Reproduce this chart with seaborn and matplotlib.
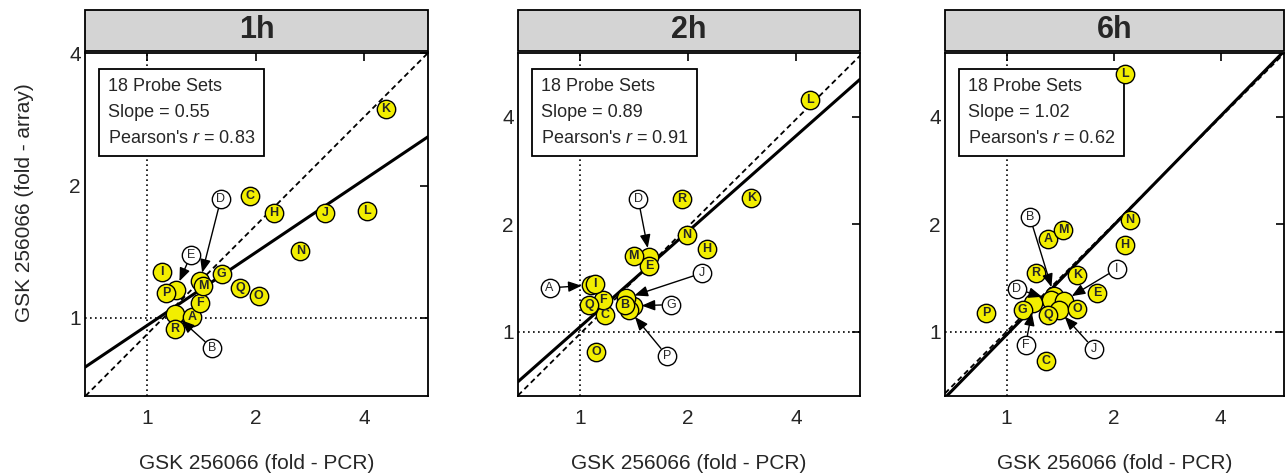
import numpy as np
import pandas as pd
import matplotlib
matplotlib.use("Agg")
import matplotlib.pyplot as plt
from matplotlib.patches import Rectangle
import seaborn as sns

# ---------------- data ----------------
LETTERS = list("ABCDEFGHIJKLMNOPQR")
TIMEPOINTS = ["1h", "2h", "6h"]

# fold change by PCR (x) and by array (y) for each probe set A..R
PCR_1H = [1.33, 1.19, 1.925, 1.40, 1.20, 1.40, 1.61, 2.25, 1.10, 3.12, 4.60, 4.07, 1.43, 2.66, 2.04, 1.13, 1.81, 1.19]
ARRAY_1H = [1.005, 1.02, 1.894, 1.21, 1.16, 1.08, 1.26, 1.73, 1.27, 1.73, 2.99, 1.75, 1.18, 1.42, 1.12, 1.14, 1.17, 0.946]

PCR_2H = [1.07, 1.33, 1.17, 1.56, 1.56, 1.16, 1.40, 2.25, 1.10, 1.34, 3.00, 4.37, 1.41, 1.98, 1.11, 1.37, 1.06, 1.92]
ARRAY_2H = [1.35, 1.19, 1.11, 1.62, 1.53, 1.23, 1.18, 1.71, 1.36, 1.24, 2.37, 4.46, 1.63, 1.87, 0.878, 1.15, 1.19, 2.36]

PCR_6H = [1.31, 1.36, 1.29, 1.33, 1.80, 1.19, 1.11, 2.15, 1.45, 1.40, 1.58, 2.15, 1.44, 2.22, 1.58, 0.876, 1.31, 1.21]
ARRAY_6H = [1.82, 1.26, 0.828, 1.23, 1.28, 1.20, 1.15, 1.75, 1.22, 1.15, 1.44, 5.28, 1.93, 2.06, 1.16, 1.13, 1.11, 1.46]

# call-out labels (letter, label position in fold units)
CALLOUT_1H = ["B", "D", "E"]
CALLOUT_1H_X = [1.514, 1.60, 1.321]
CALLOUT_1H_Y = [0.854, 1.861, 1.390]

CALLOUT_2H = ["A", "D", "G", "J", "P"]
CALLOUT_2H_X = [0.822, 1.452, 1.79, 2.19, 1.745]
CALLOUT_2H_Y = [1.326, 2.348, 1.19, 1.46, 0.856]

CALLOUT_6H = ["B", "D", "F", "I", "J"]
CALLOUT_6H_X = [1.163, 1.068, 1.131, 2.04, 1.759]
CALLOUT_6H_Y = [2.094, 1.318, 0.918, 1.499, 0.896]

N_PROBES = 18
SLOPES = [0.55, 0.89, 1.02]
INTERCEPTS_LOG2 = [-0.056, 0.045, -0.03]
PEARSON_R = [0.83, 0.91, 0.62]

# dashed reference diagonal (log2 slope / intercept) as drawn in each panel
DIAG_SLOPES = [0.82, 1.0, 1.0]
DIAG_INTERCEPTS_LOG2 = [-0.122, -0.02, 0.0]

X_TICKS = [1, 2, 4]
Y_TICKS = [1, 2, 4]
X_LABEL = "GSK 256066 (fold - PCR)"
Y_LABEL = "GSK 256066 (fold - array)"

# ---------------- style ----------------
sns.set_style("white")
plt.rcParams["font.family"] = ["Liberation Sans", "DejaVu Sans"]
plt.rcParams["mathtext.fontset"] = "custom"
plt.rcParams["mathtext.rm"] = "Liberation Sans"
plt.rcParams["mathtext.it"] = "Liberation Sans:italic"

W, H = 1286, 476
fig = plt.figure(figsize=(W / 100, H / 100), dpi=100)

panels = [
    (PCR_1H, ARRAY_1H, CALLOUT_1H, CALLOUT_1H_X, CALLOUT_1H_Y),
    (PCR_2H, ARRAY_2H, CALLOUT_2H, CALLOUT_2H_X, CALLOUT_2H_Y),
    (PCR_6H, ARRAY_6H, CALLOUT_6H, CALLOUT_6H_X, CALLOUT_6H_Y),
]
lefts = [85, 518, 945]
rights = [428, 860, 1284]
top_px, bot_px = 52.5, 396
xlim = (2 ** -0.575, 2 ** 2.59)
ylims = [(2 ** -0.59, 2 ** 2.005), (2 ** -0.6, 2 ** 2.6), (2 ** -0.6, 2 ** 2.6)]

YELLOW = "#f2ee00"
MS = 175

for i, (xs, ys, co, cox, coy) in enumerate(panels):
    l, r = lefts[i], rights[i]
    ax = fig.add_axes([l / W, 1 - bot_px / H, (r - l) / W, (bot_px - top_px) / H])
    ax.set_xscale("log", base=2)
    ax.set_yscale("log", base=2)
    ax.set_xlim(*xlim)
    ax.set_ylim(*ylims[i])

    # reference lines
    ax.axvline(1, color="black", lw=1.2, ls=(0, (1, 2)), zorder=1)
    ax.axhline(1, color="black", lw=1.2, ls=(0, (1, 2)), zorder=1)
    da, db = DIAG_SLOPES[i], DIAG_INTERCEPTS_LOG2[i]
    ax.axline((1, 2 ** db), (2, 2 ** (da + db)), color="black", lw=1.3,
              ls=(0, (3, 2)), zorder=1.5)
    a, b = SLOPES[i], INTERCEPTS_LOG2[i]
    ax.axline((1, 2 ** b), (2, 2 ** (a + b)), color="black", lw=2.2, zorder=2)

    # stats box (below points, above lines)
    txt = (f"{N_PROBES} Probe Sets\nSlope = {SLOPES[i]:.2f}\n"
           f"Pearson's $r$ = {PEARSON_R[i]:.2f}")
    ax.text(0.067, 0.926, txt, transform=ax.transAxes, ha="left", va="top",
            fontsize=13, linespacing=1.68, zorder=2.5,
            bbox=dict(boxstyle="square,pad=0.5", fc="white", ec="black", lw=1.3))

    df = pd.DataFrame({"probe": LETTERS, "pcr": xs, "array": ys})
    df["hidden"] = df["probe"].isin(co)
    # points whose label is called out sit underneath the labelled points
    sns.scatterplot(data=df[df["hidden"]], x="pcr", y="array", s=MS, color=YELLOW,
                    edgecolor="black", linewidth=1.0, zorder=3, ax=ax, legend=False)
    shown = df[~df["hidden"]]
    sns.scatterplot(data=shown, x="pcr", y="array", s=MS, color=YELLOW,
                    edgecolor="black", linewidth=1.0, zorder=3.2, ax=ax, legend=False)
    for _, row in shown.iterrows():
        ax.text(row["pcr"], row["array"], row["probe"], ha="center", va="center",
                fontsize=9, fontweight="bold", zorder=4)

    # call-outs
    cdf = pd.DataFrame({"probe": co, "lx": cox, "ly": coy})
    for _, row in cdf.iterrows():
        k = LETTERS.index(row["probe"])
        ax.annotate("", xy=(xs[k], ys[k]), xytext=(row["lx"], row["ly"]),
                    arrowprops=dict(arrowstyle="-|>,head_length=0.8,head_width=0.32",
                                    mutation_scale=10, color="black", lw=1.0,
                                    shrinkA=6.8, shrinkB=6.5),
                    zorder=5)
    sns.scatterplot(data=cdf, x="lx", y="ly", s=MS, color="white",
                    edgecolor="black", linewidth=1.0, zorder=6, ax=ax, legend=False)
    for _, row in cdf.iterrows():
        ax.text(row["lx"], row["ly"], row["probe"], ha="center", va="center",
                fontsize=9, zorder=7)

    # ticks
    ax.set_xticks(X_TICKS)
    ax.set_xticklabels([str(t) for t in X_TICKS])
    ax.set_yticks(Y_TICKS)
    ax.set_yticklabels([str(t) for t in Y_TICKS])
    ax.minorticks_off()
    ax.tick_params(axis="both", which="both", direction="in", length=6, width=1.2,
                   top=True, right=True, labelsize=15, color="black")
    ax.tick_params(axis="x", pad=9)
    ax.tick_params(axis="y", pad=3)
    for sp in ax.spines.values():
        sp.set_color("black")
        sp.set_linewidth(1.3)

    ax.set_xlabel(X_LABEL, fontsize=15, labelpad=19)
    if i == 0:
        ax.set_ylabel(Y_LABEL, fontsize=15)
        ax.yaxis.set_label_coords(-0.149, 0.564)
    else:
        ax.set_ylabel("")

    # strip
    ax.add_patch(Rectangle((0, 1.0058), 1, 0.1177, transform=ax.transAxes,
                           clip_on=False, fc="#d4d4d4", ec="black", lw=1.3))
    ax.text(0.5, 1.0647, TIMEPOINTS[i], transform=ax.transAxes, ha="center",
            va="center", fontsize=22, fontweight="bold")

fig.savefig("out.png", dpi=100)
